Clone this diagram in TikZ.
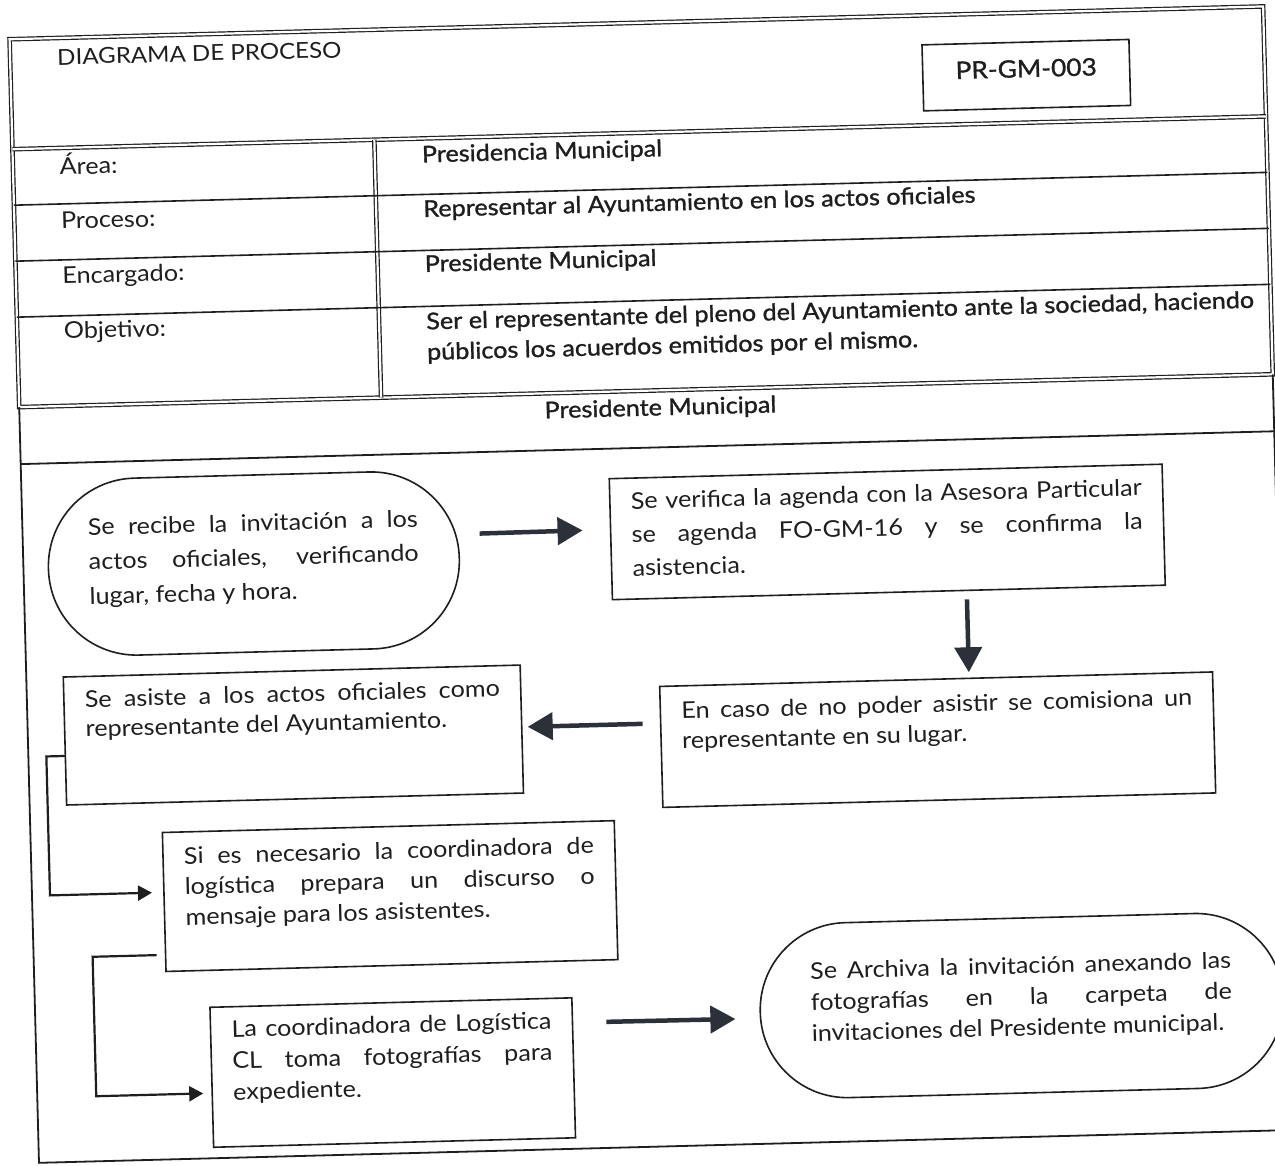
\documentclass[tikz,border=0pt]{standalone}
\usepackage{fontspec}
\setmainfont{Lato}[FakeStretch=1.095]
\newfontfamily\semib{Lato}[FakeBold=1.2,FakeStretch=1.095]
\usetikzlibrary{arrows.meta,calc}

\definecolor{ink}{HTML}{1E1E1E}
\definecolor{arrowink}{HTML}{2C3038}

% one justified line stretched to the full box width
\newcommand\jline[1]{\makebox[\linewidth][s]{#1}\\}
% box body: height, width, top pad, baselineskip, text
\newcommand\boxbody[5]{%
  \parbox[c][#1pt][t]{#2pt}{\fontsize{23}{#4}\selectfont\vspace*{#3pt}\strut #5}}

\tikzset{
  dbl/.style={draw=ink, line width=1.2pt, double=white, double distance=2.2pt},
  rowline/.style={draw=ink, line width=1.6pt},
  frame/.style={draw=ink, line width=1.8pt},
  lab/.style={anchor=base west, inner sep=0pt, text=ink, font=\fontsize{23}{29}\selectfont},
  val/.style={anchor=base west, inner sep=0pt, text=ink, font=\fontsize{23}{29}\semib},
  stepbox/.style={draw=ink, line width=1.6pt, anchor=north west, inner xsep=21pt,
    inner ysep=0pt, outer sep=0pt, text=ink},
  termbox/.style={draw=ink, line width=1.6pt, rounded corners=#1, inner sep=0pt,
    outer sep=0pt, text=ink},
  bigarrow/.style={line width=4.5pt, draw=arrowink, -{Triangle[length=25pt,width=27pt]}},
  elbow/.style={line width=2.2pt, draw=ink, -{Triangle[length=14pt,width=15pt]}},
}

\begin{document}
\begin{tikzpicture}[x=1pt,y=-1pt]
\clip (0,0) rectangle (1275,1166);
\fill[white] (0,0) rectangle (1275,1166);
\begin{scope}[rotate around={1.5:(637,583)}, transform shape]

% ---- header table ----
\draw[dbl] (24,23) rectangle (1278,391);
\draw[dbl] (24,133) -- (1278,133);
\draw[dbl] (386,133) -- (386,391);
\draw[rowline] (24,189) -- (1278,189);
\draw[rowline] (24,245) -- (1278,245);
\draw[rowline] (24,301) -- (1278,301);

\node[lab, font=\fontsize{22}{29}\selectfont] (title) at (71,50) {DIAGRAMA DE PROCESO};
\node[draw=ink, line width=1.6pt, minimum width=207pt, minimum height=66pt,
      text height=18pt, text depth=14pt, inner sep=0pt, text=ink,
      font=\fontsize{24}{30}\semib] (code) at (1039.5,85.5) {PR-GM-003};

\node[lab] (larea) at (70.5,160) {Área:};
\node[lab] (lproc) at (70.5,214) {Proceso:};
\node[lab] (lenc)  at (70.5,269) {Encargado:};
\node[lab] (lobj)  at (70.5,324) {Objetivo:};

\node[val] (varea) at (433,157) {Presidencia Municipal};
\node[val] (vproc) at (433,211.5) {Representar al Ayuntamiento en los actos oficiales};
\node[val] (venc)  at (433,266.5) {Presidente Municipal};
\node[val] (vobj) at (433,324) {\parbox[t]{840pt}{\fontsize{23}{30.5}\semib Ser el representante del pleno del Ayuntamiento ante la sociedad, haciendo\\públicos los acuerdos emitidos por el mismo.}};

% ---- lane ----
\draw[frame] (24,391) -- (24,1147) -- (1278,1147) -- (1278,391);
\draw[frame] (24,448) -- (1278,448);
\node[anchor=base, inner sep=0pt, text=ink, font=\fontsize{23}{29}\semib] (lane) at (665,416) {Presidente Municipal};

% ---- process steps ----
\node[termbox=88pt, minimum width=411pt, minimum height=177pt] (start) at (254.5,553.5)
  {\boxbody{177}{330}{31.85}{34.5}{\jline{Se recibe la invitación a los}\jline{actos oficiales, verificando}lugar, fecha y hora.}};

\node[stepbox] (verify) at (612,478)
  {\boxbody{121}{511}{7.5}{33.5}{\jline{Se verifica la agenda con la Asesora Particular}\jline{se agenda FO-GM-16 y se confirma la}asistencia.}};

\node[stepbox] (commission) at (657,687)
  {\boxbody{121}{511}{12}{30}{\jline{En caso de no poder asistir se comisiona un}representante en su lugar.}};

\node[stepbox] (attend) at (61,662)
  {\boxbody{128}{415}{10.35}{29.5}{\jline{Se asiste a los actos oficiales como}representante del Ayuntamiento.}};

\node[stepbox] (speech) at (156,820)
  {\boxbody{139}{410}{11}{30.5}{\jline{Si es necesario la coordinadora de}\jline{logística prepara un discurso o}mensaje para los asistentes.}};

\node[stepbox] (photos) at (199,996)
  {\boxbody{140}{320}{8.45}{31.5}{\jline{La coordinadora de Logística}\jline{CL toma fotografías para}expediente.}};

\node[termbox=87pt, minimum width=523pt, minimum height=175pt] (archive) at (1010.5,1015.5)
  {\boxbody{175}{421}{34}{31}{\jline{Se Archiva la invitación anexando las}\jline{fotografías en la carpeta de}invitaciones del Presidente municipal.}};

% ---- connectors ----
\draw[bigarrow] ($(start.east)+(21,-24)$) -- ($(verify.west)+(-28,-9.5)$);
\draw[bigarrow] ($(verify.south)+(78,9)$) -- ($(commission.north)+(33,-6)$);
\draw[bigarrow] ($(commission.west)+(-18,-23.5)$) -- ($(attend.east)+(6,-2)$);
\draw[bigarrow] ($(photos.east)+(34,-45)$) -- ($(archive.west)+(-25,6)$);

\draw[elbow] ($(attend.west)+(0,15)$) -- ++(-19,0) |- ($(speech.west)+(-12,-9.5)$);
\draw[elbow] ($(speech.west)+(-9,53)$) -- ++(-64,0) |- ($(photos.west)+(-9,16)$);

\end{scope}
\end{tikzpicture}
\end{document}
